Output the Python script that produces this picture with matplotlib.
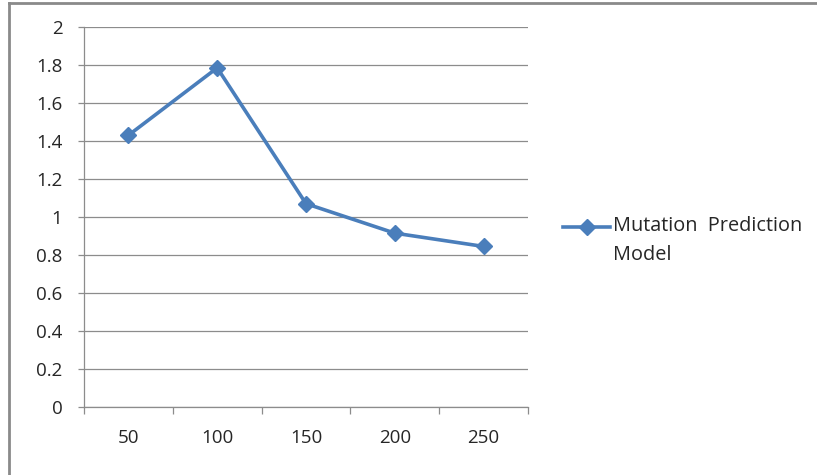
import matplotlib.pyplot as plt
from matplotlib.lines import Line2D

plt.rcParams['font.family'] = ['Open Sans', 'DejaVu Sans']

categories = ["50", "100", "150", "200", "250"]
values = [1.43, 1.785, 1.07, 0.915, 0.845]
y_ticks = [0, 0.2, 0.4, 0.6, 0.8, 1, 1.2, 1.4, 1.6, 1.8, 2]
series_name = "Mutation  Prediction\nModel"

blue = "#4A7EBB"
grid_gray = "#8c8c8c"
text_color = "#262626"

fig = plt.figure(figsize=(8.17, 4.75), dpi=100)
ax = fig.add_axes([84 / 817, 68 / 475, 444 / 817, 380 / 475])

x = list(range(len(categories)))
ax.plot(x, values, color=blue, linewidth=2.6, marker="D", markersize=8,
        markerfacecolor=blue, markeredgecolor=blue, zorder=3)

ax.set_xlim(-0.5, len(categories) - 0.5)
ax.set_ylim(0, 2)

# y axis: gridlines and short outward ticks
ax.set_yticks(y_ticks)
ax.set_yticklabels(["0" if v == 0 else ("%g" % v) for v in y_ticks])
ax.yaxis.grid(True, color=grid_gray, linewidth=0.9)
ax.tick_params(axis="y", length=4.5, width=0.9, color=grid_gray, pad=11,
               labelsize=13.5, labelcolor=text_color)

# x axis: ticks at category boundaries, labels centred in each bin
ax.set_xticks([i - 0.5 for i in range(len(categories) + 1)])
ax.set_xticklabels([])
ax.set_xticks(x, minor=True)
ax.set_xticklabels(categories, minor=True)
ax.tick_params(axis="x", which="major", length=5, width=0.9, color=grid_gray)
ax.tick_params(axis="x", which="minor", length=0, pad=16, labelsize=13.5,
               labelcolor=text_color)

for side in ("top", "right"):
    ax.spines[side].set_visible(False)
for side in ("left", "bottom"):
    ax.spines[side].set_color(grid_gray)
    ax.spines[side].set_linewidth(0.9)
ax.set_axisbelow(True)

# legend entry drawn beside the plot
fig.add_artist(Line2D([563 / 817, 610 / 817], [1 - 227 / 475, 1 - 227 / 475],
                      color=blue, linewidth=2.6))
fig.add_artist(Line2D([587 / 817], [1 - 227 / 475], color=blue, marker="D",
                      markersize=8, linestyle="none"))
fig.text(613 / 817, 1 - 216 / 475, series_name, fontsize=14.3,
         color=text_color, va="top", ha="left", linespacing=1.6)

# chart area frame (top and left edges)
fig.add_artist(Line2D([9 / 817, 1], [1 - 3 / 475, 1 - 3 / 475],
                      color="#8a8a8a", linewidth=2))
fig.add_artist(Line2D([9 / 817, 9 / 817], [0, 1 - 3 / 475],
                      color="#8a8a8a", linewidth=2))

fig.savefig("out.png", dpi=100, facecolor="white")
